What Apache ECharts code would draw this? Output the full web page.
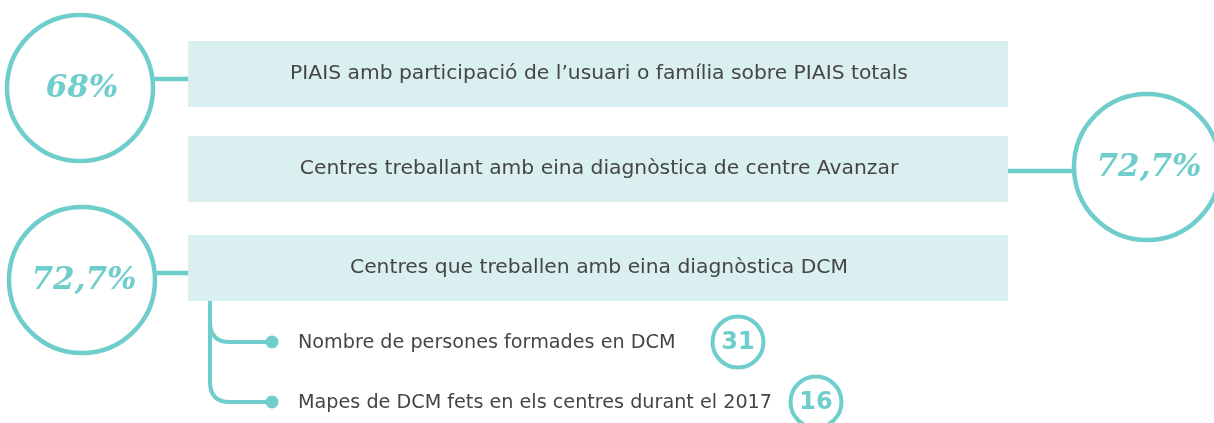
<!DOCTYPE html>
<html>
<head>
<meta charset="utf-8">
<title>DCM</title>
<script src="https://cdn.jsdelivr.net/npm/echarts@6/dist/echarts.min.js"></script>
<style>
  html, body { margin: 0; padding: 0; background: #fff; }
  #chart { width: 1214px; height: 423px; }
</style>
</head>
<body>
<div id="chart"></div>
<script>
// indicadors principals
var labels = [
  'PIAIS amb participació de l\u2019usuari o família sobre PIAIS totals',
  'Centres treballant amb eina diagnòstica de centre Avanzar',
  'Centres que treballen amb eina diagnòstica DCM'
];
var values = ['68%', '72,7%', '72,7%'];
var sides = ['left', 'right', 'left'];

// sub-indicadors de DCM
var subLabels = [
  'Nombre de persones formades en DCM',
  'Mapes de DCM fets en els centres durant el 2017'
];
var subValues = [31, 16];

var teal = '#6fcdcb';
var fill = '#d9eff0';
var ink = '#454545';

var chart = echarts.init(document.getElementById('chart'));

var barX = 188, barW = 820, barH = 66;
var barTops = [41, 136, 235];
var circles = [
  { cx: 80, cy: 88, lineY: 79 },
  { cx: 1147, cy: 167, lineY: 171 },
  { cx: 82, cy: 280, lineY: 273 }
];
var R = 73;

var elements = [];

labels.forEach(function (label, i) {
  var top = barTops[i];
  var c = circles[i];
  elements.push({
    type: 'rect',
    shape: { x: barX, y: top, width: barW, height: barH },
    style: { fill: fill }
  });
  elements.push({
    type: 'text',
    x: barX + barW / 2 + 1,
    y: top + barH / 2,
    style: {
      text: label, fill: ink, fontSize: 20.3,
      fontFamily: 'DejaVu Sans', fontWeight: 400,
      align: 'center', verticalAlign: 'middle'
    }
  });
  var x1 = sides[i] === 'left' ? c.cx + R : barX + barW;
  var x2 = sides[i] === 'left' ? barX : c.cx - R;
  elements.push({
    type: 'line',
    shape: { x1: x1, y1: c.lineY, x2: x2, y2: c.lineY },
    style: { stroke: teal, lineWidth: 4.5 }
  });
  elements.push({
    type: 'circle',
    shape: { cx: c.cx, cy: c.cy, r: R },
    style: { fill: '#fff', stroke: teal, lineWidth: 4.5 }
  });
  elements.push({
    type: 'text',
    x: c.cx + 2,
    y: c.cy + 1,
    style: {
      text: values[i], fill: teal, fontSize: 31,
      fontFamily: 'DejaVu Serif', fontWeight: 'bold', fontStyle: 'italic',
      align: 'center', verticalAlign: 'middle'
    }
  });
});

// arbre de sub-indicadors
var trunkX = 210, trunkTop = barTops[2] + barH;
var branchY = [342, 402];
var dotX = 272, bend = 20;
var subCircleX = [738, 816];
var subTextX = 298;

branchY.forEach(function (y) {
  elements.push({
    type: 'line',
    shape: { x1: trunkX, y1: trunkTop, x2: trunkX, y2: y - bend },
    style: { stroke: teal, lineWidth: 4 }
  });
  elements.push({
    type: 'bezierCurve',
    shape: {
      x1: trunkX, y1: y - bend,
      cpx1: trunkX, cpy1: y,
      x2: trunkX + bend, y2: y
    },
    style: { fill: null, stroke: teal, lineWidth: 4 }
  });
  elements.push({
    type: 'line',
    shape: { x1: trunkX + bend, y1: y, x2: dotX, y2: y },
    style: { stroke: teal, lineWidth: 4 }
  });
});

subLabels.forEach(function (label, i) {
  var y = branchY[i];
  elements.push({
    type: 'circle',
    shape: { cx: dotX, cy: y, r: 6.5 },
    style: { fill: teal }
  });
  elements.push({
    type: 'text',
    x: subTextX,
    y: y + 1,
    style: {
      text: label, fill: ink, fontSize: 19.2,
      fontFamily: 'DejaVu Sans', align: 'left', verticalAlign: 'middle'
    }
  });
  elements.push({
    type: 'circle',
    shape: { cx: subCircleX[i], cy: y, r: 25.5 },
    style: { fill: '#fff', stroke: teal, lineWidth: 4 }
  });
  elements.push({
    type: 'text',
    x: subCircleX[i],
    y: y + 1,
    style: {
      text: String(subValues[i]), fill: teal, fontSize: 24,
      fontFamily: 'DejaVu Sans', fontWeight: 'bold',
      align: 'center', verticalAlign: 'middle'
    }
  });
});

chart.setOption({
  backgroundColor: '#fff',
  graphic: { elements: elements }
});
</script>
</body>
</html>
